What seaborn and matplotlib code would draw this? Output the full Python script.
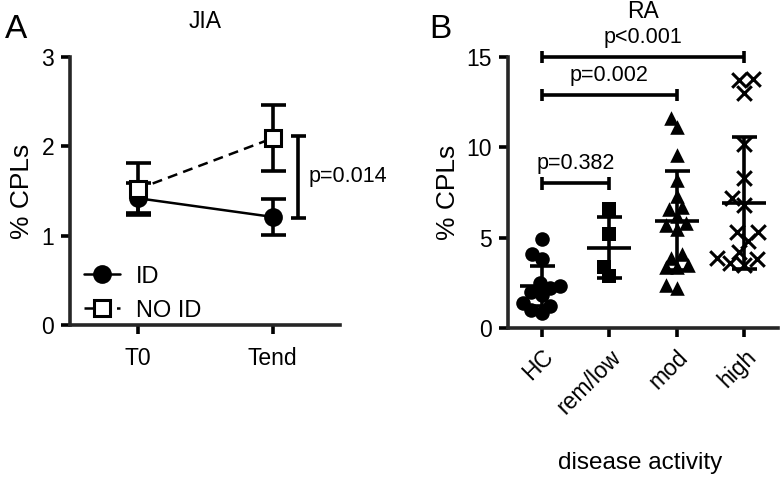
import numpy as np
import pandas as pd
import matplotlib
matplotlib.use("Agg")
import matplotlib.pyplot as plt
import seaborn as sns

# =========================
# DATA
# =========================

timepoints = ["T0", "Tend"]
id_mean = [1.42, 1.21]
id_sd = [0.17, 0.20]
noid_mean = [1.52, 2.09]
noid_sd = [0.29, 0.37]
jia_p_label = "p=0.014"
jia_p_range = [1.20, 2.12]

groups = ["HC", "rem/low", "mod", "high"]
hc_vals = [4.9, 4.1, 3.8, 2.5, 2.3, 2.2, 2.0, 1.8, 1.4, 1.2, 1.0, 0.85]
remlow_vals = [6.6, 5.2, 3.4, 2.9]
mod_vals = [11.6, 11.1, 9.6, 8.2, 7.3, 6.6, 6.7, 6.2, 5.8, 5.7, 5.5,
            4.1, 3.9, 3.5, 3.4, 3.4, 2.2, 2.4]
high_vals = [13.7, 13.8, 13.0, 10.2, 8.3, 6.8, 7.2, 5.3, 5.3, 4.8,
             4.2, 3.9, 3.8, 3.5, 3.6]
group_mean = [2.34, 4.45, 5.94, 6.9]
group_sd = [1.11, 1.68, 2.75, 3.65]
group_markers = ["o", "s", "^", "x"]

comparisons = [("HC", "rem/low"), ("HC", "mod"), ("HC", "high")]
comparison_y = [8.0, 12.9, 15.0]
comparison_p = ["p=0.382", "p=0.002", "p<0.001"]

# =========================
# STYLE
# =========================

sns.set_style("ticks")
plt.rcParams["font.family"] = ["Liberation Sans", "DejaVu Sans"]
plt.rcParams["text.color"] = "k"
plt.rcParams["axes.labelcolor"] = "k"
plt.rcParams["xtick.color"] = "k"
plt.rcParams["ytick.color"] = "k"
LW = 2.6

fig = plt.figure(figsize=(7.8, 4.78), dpi=100)
ax1 = fig.add_axes([70 / 780, 1 - 325 / 478, 270 / 780, 268 / 478])
ax2 = fig.add_axes([508 / 780, 1 - 328 / 478, 270 / 780, 271 / 478])


def style_axis(ax):
    sns.despine(ax=ax)
    for s in ["left", "bottom"]:
        ax.spines[s].set_linewidth(LW)
    ax.tick_params(width=LW, length=6.5, labelsize=16.5, color="k", pad=5)
    ax.set_xlabel("")
    ax.set_ylabel("% CPLs", fontsize=19, labelpad=5)


# =========================
# PANEL A - JIA
# =========================

ax1.errorbar(range(len(timepoints)), id_mean, yerr=id_sd, fmt="none",
             ecolor="k", elinewidth=LW, capsize=9, capthick=LW, zorder=2)
ax1.errorbar(range(len(timepoints)), noid_mean, yerr=noid_sd, fmt="none",
             ecolor="k", elinewidth=LW, capsize=9, capthick=LW, zorder=2)

sns.lineplot(x=timepoints, y=id_mean, ax=ax1, color="k", marker="o",
             markersize=12, markeredgecolor="k", markeredgewidth=1.5,
             linewidth=1.8, label="ID", zorder=3)
sns.lineplot(x=timepoints, y=noid_mean, ax=ax1, color="k", marker="s",
             markersize=12, markerfacecolor="white", markeredgecolor="k",
             markeredgewidth=2.2, linewidth=1.8, linestyle=(0, (4, 2.5)),
             label="NO ID", zorder=4)

ax1.set_xlim(-0.5, 1.5)
ax1.set_ylim(0, 3)
ax1.set_yticks([0, 1, 2, 3])
style_axis(ax1)
ax1.tick_params(axis="x", pad=9)

# p-value bracket
bx = 1.19
ax1.plot([bx, bx], jia_p_range, color="k", lw=LW, solid_capstyle="butt")
for yv in jia_p_range:
    ax1.plot([bx - 0.055, bx + 0.055], [yv, yv], color="k", lw=LW,
             solid_capstyle="butt")
ax1.text(bx + 0.075, np.mean(jia_p_range), jia_p_label, fontsize=15.5,
         va="center", ha="left", clip_on=False)

ax1.legend(loc="lower left", bbox_to_anchor=(0.0, -0.04), frameon=False,
           fontsize=17, handlelength=1.5, handletextpad=0.7,
           labelspacing=0.5, borderaxespad=0.2)

# =========================
# PANEL B - RA
# =========================

all_vals = [hc_vals, remlow_vals, mod_vals, high_vals]
df = pd.DataFrame({
    "group": np.repeat(groups, [len(v) for v in all_vals]),
    "value": np.concatenate(all_vals),
})

# swarm with smaller markers so points overlap like the original, enlarge later
for g, m in zip(groups, group_markers):
    sub = df[df["group"] == g]
    if m == "x":
        sns.swarmplot(data=sub, x="group", y="value", order=groups, ax=ax2,
                      marker=m, color="k", size=7.5, linewidth=2.2, zorder=3)
    else:
        sns.swarmplot(data=sub, x="group", y="value", order=groups, ax=ax2,
                      marker=m, color="k", size=7.5, linewidth=0, zorder=3)

ax2.set_xlim(-0.5, 3.5)
ax2.set_ylim(0, 15)
fig.canvas.draw()
for coll in ax2.collections:
    if "draw" in coll.__dict__:
        del coll.draw
    coll.set_sizes([110])

ax2.errorbar(range(len(groups)), group_mean, yerr=group_sd, fmt="_",
             color="k", markersize=32, markeredgewidth=LW, elinewidth=LW,
             capsize=9, capthick=LW, zorder=4)

ax2.set_xlim(-0.5, 3.5)
ax2.set_ylim(0, 15)
ax2.set_yticks([0, 5, 10, 15])
style_axis(ax2)
ax2.tick_params(axis="x", pad=6)
plt.setp(ax2.get_xticklabels(), rotation=45, ha="right",
         rotation_mode="anchor")

for (g1, g2), yv, lab in zip(comparisons, comparison_y, comparison_p):
    x1, x2 = groups.index(g1), groups.index(g2)
    ax2.plot([x1, x2], [yv, yv], color="k", lw=LW, clip_on=False,
             solid_capstyle="butt")
    for xv in (x1, x2):
        ax2.plot([xv, xv], [yv - 0.35, yv + 0.35], color="k", lw=LW,
                 clip_on=False, solid_capstyle="butt")
    ax2.text((x1 + x2) / 2, yv + 0.5, lab, fontsize=15.5, ha="center",
             va="bottom", clip_on=False)

# =========================
# LABELS
# =========================

fig.text(205 / 780, 1 - 21 / 478, "JIA", fontsize=16.5, ha="center",
         va="center")
fig.text(643 / 780, 1 - 12 / 478, "RA", fontsize=16.5, ha="center",
         va="center")
fig.text(16 / 780, 1 - 29 / 478, "A", fontsize=24, ha="center", va="center")
fig.text(440 / 780, 1 - 29 / 478, "B", fontsize=24, ha="center", va="center")
fig.text(640 / 780, 1 - 463 / 478, "disease activity", fontsize=17.5,
         ha="center", va="center")

fig.savefig("out.png", dpi=100)
